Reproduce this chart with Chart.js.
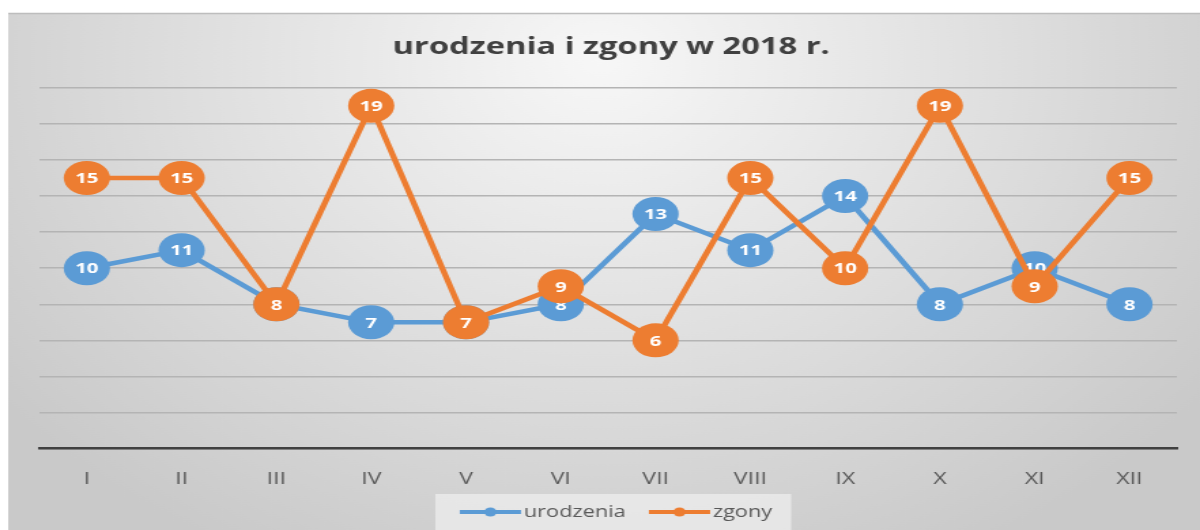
<!DOCTYPE html>
<html>
<head>
<meta charset="utf-8">
<script src="https://cdn.jsdelivr.net/npm/chart.js@4"></script>
<style>
  html, body { margin: 0; padding: 0; background: #fff; overflow: hidden; }
</style>
</head>
<body>
<!-- rysunek wewnętrznie węższy i rozciągnięty w poziomie, jak w oryginale -->
<canvas id="wykres" width="882" height="530" style="width:1200px;height:530px;display:block"></canvas>
<script>
// dane z wykresu
const miesiace = ["I", "II", "III", "IV", "V", "VI", "VII", "VIII", "IX", "X", "XI", "XII"];
const urodzenia = [10, 11, 8, 7, 7, 8, 13, 11, 14, 8, 10, 8];
const zgony = [15, 15, 8, 19, 7, 9, 6, 15, 10, 19, 9, 15];
const osY = { min: 0, max: 20, krok: 2 };

const NIEBIESKI = "#5b9bd5";
const POMARANCZ = "#ed7d31";

// znacznik w legendzie - linia z kropką
function liniaLegendy(kolor) {
  let c = document.createElement("canvas");
  c.width = 60;
  c.height = 12;
  let ctx = c.getContext("2d");
  ctx.strokeStyle = kolor;
  ctx.lineWidth = 4;
  ctx.beginPath();
  ctx.moveTo(14, 6);
  ctx.lineTo(59, 6);
  ctx.stroke();
  ctx.fillStyle = kolor;
  ctx.beginPath();
  ctx.arc(36.5, 6, 4.5, 0, Math.PI * 2);
  ctx.fill();
  return c;
}

const tlo = {
  id: "tlo",
  beforeDraw(chart) {
    let ctx = chart.ctx;
    let w = chart.width, h = chart.height;
    ctx.save();
    ctx.fillStyle = "#fff";
    ctx.fillRect(0, 0, w, h);
    let g = ctx.createRadialGradient(w / 2, 60, 0, w / 2, 60, 560);
    g.addColorStop(0, "#f7f7f7");
    g.addColorStop(1, "#c9c9c9");
    ctx.fillStyle = g;
    ctx.fillRect(6, 13, w - 6, h - 13);
    ctx.strokeStyle = "#bdbdbd";
    ctx.lineWidth = 1.5;
    ctx.beginPath();
    ctx.moveTo(6, 13.5);
    ctx.lineTo(w, 13.5);
    ctx.stroke();

    // tło legendy
    let boxy = chart.legend.legendHitBoxes;
    if (boxy && boxy.length) {
      let ost = boxy[boxy.length - 1];
      let lewo = boxy[0].left - 11;
      let prawo = ost.left + ost.width + 14;
      let srodek = boxy[0].top + boxy[0].height / 2;
      ctx.fillStyle = "rgba(240,240,240,0.7)";
      ctx.fillRect(lewo, srodek - 18, prawo - lewo, 36);
    }
    ctx.restore();
  }
};

const etykiety = {
  id: "etykiety",
  afterDatasetDraw(chart, args) {
    let ctx = chart.ctx;
    let dane = chart.data.datasets[args.index].data;
    ctx.save();
    ctx.fillStyle = "#ffffff";
    ctx.font = "bold 15px 'Open Sans'";
    ctx.textAlign = "center";
    ctx.textBaseline = "middle";
    args.meta.data.forEach((pkt, i) => {
      ctx.fillText(String(dane[i]), pkt.x, pkt.y + 1);
    });
    ctx.restore();
  }
};

new Chart(document.getElementById("wykres"), {
  type: "line",
  data: {
    labels: miesiace,
    datasets: [
      {
        label: "urodzenia",
        data: urodzenia,
        borderColor: NIEBIESKI,
        backgroundColor: NIEBIESKI,
        borderWidth: 4.5,
        pointRadius: 17,
        pointBorderWidth: 0,
        legendIkona: liniaLegendy(NIEBIESKI),
        order: 1,
        tension: 0,
      },
      {
        label: "zgony",
        data: zgony,
        borderColor: POMARANCZ,
        backgroundColor: POMARANCZ,
        borderWidth: 4.5,
        pointRadius: 17,
        pointBorderWidth: 0,
        legendIkona: liniaLegendy(POMARANCZ),
        order: 0,
        tension: 0,
      },
    ],
  },
  options: {
    responsive: false,
    animation: false,
    events: [],
    layout: {
      padding: { left: 29, right: 12.5, top: 0, bottom: 0 },
    },
    plugins: {
      title: {
        display: true,
        text: "urodzenia i zgony w 2018 r.",
        color: "#404040",
        font: { family: "'Open Sans'", size: 24, weight: "bold" },
        padding: { top: 33, bottom: 26 },
      },
      legend: {
        position: "bottom",
        labels: {
          usePointStyle: true,
          pointStyleWidth: 46,
          color: "#595959",
          font: { family: "'Open Sans'", size: 16 },
          padding: 10,
          generateLabels(chart) {
            return chart.data.datasets.map((ds, i) => ({
              text: ds.label,
              pointStyle: ds.legendIkona,
              fontColor: "#595959",
              datasetIndex: i,
              hidden: false,
              lineWidth: 0,
            }));
          },
        },
      },
      tooltip: { enabled: false },
    },
    scales: {
      x: {
        offset: true,
        grid: { display: false, drawTicks: false },
        border: { display: true, color: "#404040", width: 2.5 },
        ticks: {
          color: "#595959",
          padding: 20,
          font: { family: "'Open Sans'", size: 17 },
        },
        afterFit(skala) {
          skala.height -= 15;
        },
      },
      y: {
        min: osY.min,
        max: osY.max,
        grid: { color: "#b4b4b4", lineWidth: 1.5, drawTicks: false },
        border: { display: false },
        ticks: { display: false, stepSize: osY.krok },
      },
    },
  },
  plugins: [tlo, etykiety],
});
</script>
</body>
</html>
